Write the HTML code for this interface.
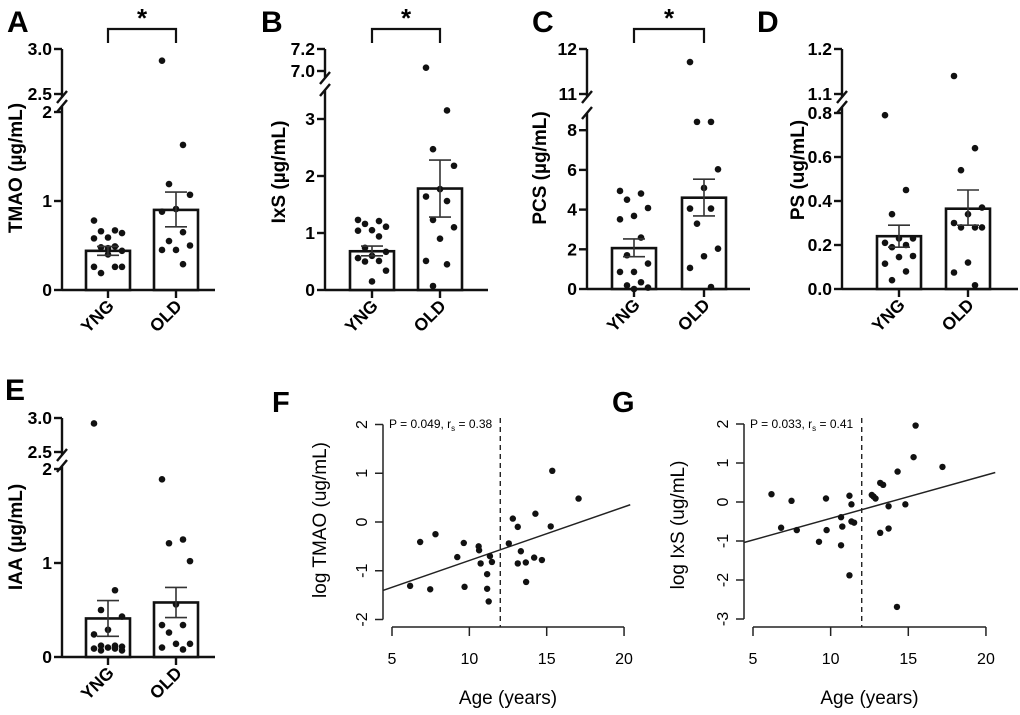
<!DOCTYPE html>
<html><head><meta charset="utf-8"><style>
body{margin:0;background:#fff;width:1020px;height:715px;overflow:hidden}
svg{display:block}
text{font-family:"Liberation Sans",Arial,sans-serif}
.b{font-weight:bold}
</style></head><body>
<svg id="fig" width="1020" height="715" viewBox="0 0 1020 715" xmlns="http://www.w3.org/2000/svg"></svg>
<script>
// ---------- Data ----------
const groups = ["YNG","OLD"];
const aYng = [0.78,0.67,0.66,0.64,0.59,0.58,0.49,0.48,0.44,0.40,0.26,0.26,0.19,0.26,0.47];
const aOld = [2.87,1.63,1.19,1.07,0.91,0.88,0.65,0.55,0.50,0.45,0.45,0.29];
const aMean = [0.44,0.90]; const aLo=[0.39,0.71]; const aHi=[0.49,1.10];
const aTicks = [0,1,2,2.5,3.0]; const aTickLabels=["0","1","2","2.5","3.0"];
const bYng = [1.23,1.21,1.16,1.11,1.05,1.04,0.94,0.74,0.67,0.60,0.56,0.51,0.50,0.34,0.15];
const bOld = [7.03,3.15,2.47,2.18,1.77,1.64,1.56,1.23,1.10,0.90,0.51,0.45,0.07];
const bMean = [0.68,1.78]; const bLo=[0.60,1.28]; const bHi=[0.77,2.28];
const bTicks = [0,1,2,3,7.0,7.2]; const bTickLabels=["0","1","2","3","7.0","7.2"];
const cYng = [4.94,4.81,4.5,4.08,3.68,3.51,2.59,1.70,1.28,0.86,0.86,0.34,0.18,0.07,0.0];
const cOld = [11.71,8.42,8.42,6.03,5.09,4.05,4.05,3.29,2.03,1.65,1.06,0.1];
const cMean = [2.06,4.60]; const cLo=[1.63,3.68]; const cHi=[2.52,5.53];
const cTicks = [0,2,4,6,8,11,12]; const cTickLabels=["0","2","4","6","8","11","12"];
const dYng = [0.79,0.45,0.34,0.23,0.23,0.21,0.20,0.19,0.15,0.145,0.115,0.08,0.04];
const dOld = [1.14,0.64,0.54,0.37,0.34,0.30,0.28,0.28,0.28,0.12,0.075,0.017];
const dMean = [0.24,0.365]; const dLo=[0.19,0.29]; const dHi=[0.29,0.45];
const dTicks = [0,0.2,0.4,0.6,0.8,1.1,1.2]; const dTickLabels=["0.0","0.2","0.4","0.6","0.8","1.1","1.2"];
const eYng = [2.92,0.71,0.50,0.43,0.29,0.24,0.12,0.12,0.11,0.10,0.09,0.09,0.07,0.07];
const eOld = [1.89,1.25,1.21,1.02,0.56,0.34,0.34,0.26,0.14,0.14,0.10,0.08];
const eMean = [0.41,0.58]; const eLo=[0.22,0.42]; const eHi=[0.60,0.74];
const eTicks = [0,1,2,2.5,3.0]; const eTickLabels=["0","1","2","2.5","3.0"];

const fAge = [6.17,6.82,7.47,7.81,9.22,9.64,9.69,10.6,10.63,10.73,11.15,11.15,11.25,11.33,11.46,12.55,12.81,13.13,13.13,13.33,13.65,13.67,14.19,14.27,14.69,15.26,15.36,17.06];
const fVal = [-1.31,-0.41,-1.38,-0.25,-0.72,-0.43,-1.33,-0.50,-0.58,-0.85,-1.37,-1.07,-1.63,-0.70,-0.82,-0.44,0.07,-0.10,-0.85,-0.60,-0.83,-1.23,-0.73,0.17,-0.78,-0.09,1.05,0.48];
const fFit = [-1.89,0.11];
const gAge = [6.19,6.81,7.48,7.82,9.25,9.70,9.74,10.67,10.67,10.75,11.21,11.21,11.34,11.34,11.51,12.65,12.76,12.89,13.19,13.38,13.19,13.73,13.73,14.31,14.27,14.81,15.34,15.47,17.2];
const gVal = [0.20,-0.66,0.03,-0.72,-1.02,0.09,-0.72,-0.39,-1.11,-0.63,0.16,-1.88,-0.06,-0.50,-0.53,0.18,0.14,0.09,0.49,0.44,-0.79,-0.11,-0.68,0.78,-2.69,-0.06,1.15,1.96,0.90];
const gFit = [-1.53,0.111];
const xTicks = [5,10,15,20];
const fYTicks = [-2,-1,0,1,2];
const gYTicks = [-3,-2,-1,0,1,2];

const NS="http://www.w3.org/2000/svg";
const svg=document.getElementById('fig');
function mk(tag,attrs,parent,txt){const e=document.createElementNS(NS,tag);for(const k in attrs)e.setAttribute(k,attrs[k]);if(txt!==undefined)e.textContent=txt;(parent||svg).appendChild(e);return e;}

function barPanel(p){
  const g=mk('g',{});
  
  
  const y=v=> v<=p.lowMax ? p.zero - v*p.ls : p.uRef - (v-p.uRefV)*p.us;
  const L=mk('text',{x:p.letterX,y:p.letterY,'font-size':30,'class':'b'},g,p.id);
  
  
  const ax=mk('path',{d:`M${p.ax} ${p.zero}V${p.lowTop} M${p.ax} ${p.uTop}V${p.uBot} M${p.ax-5} ${p.lowTop+6}L${p.ax+5} ${p.lowTop-6} M${p.ax-5} ${p.uBot+6}L${p.ax+5} ${p.uBot-6} M${p.ax} ${p.zero}H${p.xEnd}`,stroke:'#111','stroke-width':2.4,fill:'none'},g);
  
  
  p.ticks.forEach((t,i)=>{
    const yy=y(t);
    mk('line',{x1:p.ax-8,x2:p.ax,y1:yy,y2:yy,stroke:'#111','stroke-width':2.4},g);
    const tl=mk('text',{x:p.ax-10,y:yy+6,'font-size':17.5,'text-anchor':'end','class':'b'},g,p.labels[i]);
    
    
  });
  const yt=mk('text',{x:0,y:0,'font-size':19,'text-anchor':'middle','class':'b',transform:`translate(${p.titleX},${p.titleY}) rotate(-90)`},g,p.title);
  
  
  const series=[p.yng,p.old];
  groups.forEach((grp,gi)=>{
    const cx=p.cx[gi];
    const bar=mk('rect',{x:cx-22,y:y(p.mean[gi]),width:44,height:p.zero-y(p.mean[gi]),fill:'#fff',stroke:'#111','stroke-width':2.6},g);
    
    
    mk('line',{x1:cx,x2:cx,y1:p.zero,y2:p.zero+8,stroke:'#111','stroke-width':2.4},g);
    series[gi].forEach((v,i)=>{
      const off=(((i*3)%5)-2)*7;
      const d=mk('circle',{cx:cx+off,cy:y(v),r:3.3,fill:'#111'},g);
      
      
    });
    const eb=mk('path',{d:`M${cx} ${y(p.lo[gi])}V${y(p.hi[gi])} M${cx-11} ${y(p.lo[gi])}h22 M${cx-11} ${y(p.hi[gi])}h22`,stroke:'#333','stroke-width':1.6,fill:'none'},g);
    
    
    const lab=mk('text',{x:0,y:0,'font-size':17.5,'text-anchor':'end','class':'b',transform:`translate(${cx+7},${p.zero+17}) rotate(-45)`},g,grp);
    
    
  });
  if(p.sig){
    const br=mk('path',{d:`M${p.cx[0]} 43V29H${p.cx[1]}V43`,stroke:'#111','stroke-width':2.2,fill:'none'},g);
    
    
    const st=mk('text',{x:(p.cx[0]+p.cx[1])/2,y:27,'font-size':26,'text-anchor':'middle','class':'b'},g,'*');
    
    
  }
}

barPanel({id:'A',letterX:7,letterY:32,ax:62,zero:290,ls:89,lowMax:2.2,lowTop:106,uRef:94,uRefV:2.5,us:90,uTop:49,uBot:97,ticks:aTicks,labels:aTickLabels,xEnd:215,cx:[108,176],yng:aYng,old:aOld,mean:aMean,lo:aLo,hi:aHi,title:'TMAO (µg/mL)',titleX:22,titleY:168,sig:true});
barPanel({id:'B',letterX:261,letterY:32,ax:325,zero:290,ls:57,lowMax:3.6,lowTop:90,uRef:71,uRefV:7.0,us:110,uTop:49,uBot:78,ticks:bTicks,labels:bTickLabels,xEnd:488,cx:[372,440],yng:bYng,old:bOld,mean:bMean,lo:bLo,hi:bHi,title:'IxS (µg/mL)',titleX:285,titleY:172,sig:true});
barPanel({id:'C',letterX:532,letterY:32,ax:587,zero:289,ls:19.85,lowMax:9,lowTop:113,uRef:94,uRefV:11,us:45,uTop:49,uBot:97,ticks:cTicks,labels:cTickLabels,xEnd:750,cx:[634,704],yng:cYng,old:cOld,mean:cMean,lo:cLo,hi:cHi,title:'PCS (µg/mL)',titleX:546,titleY:168,sig:true});
barPanel({id:'D',letterX:757,letterY:32,ax:842,zero:289,ls:220,lowMax:0.85,lowTop:107,uRef:94,uRefV:1.1,us:450,uTop:49,uBot:97,ticks:dTicks,labels:dTickLabels,xEnd:1018,cx:[899,968],yng:dYng,old:dOld,mean:dMean,lo:dLo,hi:dHi,title:'PS  (ug/mL)',titleX:804,titleY:170,sig:false});
barPanel({id:'E',letterX:5,letterY:400,ax:62,zero:657,ls:94,lowMax:2.2,lowTop:466,uRef:452,uRefV:2.5,us:68,uTop:418,uBot:455,ticks:eTicks,labels:eTickLabels,xEnd:215,cx:[108,176],yng:eYng,old:eOld,mean:eMean,lo:eLo,hi:eHi,title:'IAA  (µg/mL)',titleX:22,titleY:537,sig:false});

function scatterPanel(p){
  const g=mk('g',{});
  
  
  const X=a=>p.x5+(a-5)*p.xs, Y=v=>p.y0-v*p.ys;
  const L=mk('text',{x:p.letterX,y:412,'font-size':29,'class':'b'},g,p.id);
  
  
  const yt=p.yTicks;
  const ya=mk('path',{d:`M${p.ax} ${Y(yt[0])}V${Y(yt[yt.length-1])}`,stroke:'#222','stroke-width':1.5,fill:'none'},g);
  
  
  yt.forEach(t=>{
    mk('line',{x1:p.ax-8,x2:p.ax,y1:Y(t),y2:Y(t),stroke:'#222','stroke-width':1.5},g);
    const tl=mk('text',{x:0,y:0,'font-size':16,'text-anchor':'middle',transform:`translate(${p.ax-16},${Y(t)}) rotate(-90)`},g,String(t));
    
    
  });
  const xa=mk('path',{d:`M${X(xTicks[0])} 627H${X(xTicks[xTicks.length-1])}`,stroke:'#222','stroke-width':1.5,fill:'none'},g);
  
  
  xTicks.forEach(t=>{
    mk('line',{x1:X(t),x2:X(t),y1:627,y2:636,stroke:'#222','stroke-width':1.5},g);
    const tl=mk('text',{x:X(t),y:664,'font-size':16,'text-anchor':'middle'},g,t);
    
    
  });
  const xt=mk('text',{x:(X(5)+X(20))/2,y:704,'font-size':19,'text-anchor':'middle'},g,'Age (years)');
  
  
  const ytl=mk('text',{x:0,y:0,'font-size':19,'text-anchor':'middle',transform:`translate(${p.titleX},${p.titleY}) rotate(-90)`},g,p.title);
  
  
  const dl=mk('line',{x1:X(12),x2:X(12),y1:418,y2:627,stroke:'#222','stroke-width':1.4,'stroke-dasharray':'5,4'},g);
  
  
  const a0=5+(p.ax-p.x5)/p.xs, a1=p.aEnd;
  const fl=mk('line',{x1:X(a0),y1:Y(p.fit[0]+p.fit[1]*a0),x2:X(a1),y2:Y(p.fit[0]+p.fit[1]*a1),stroke:'#222','stroke-width':1.5},g);
  
  
  p.age.forEach((a,i)=>{
    const d=mk('circle',{cx:X(a),cy:Y(p.val[i]),r:3.2,fill:'#111'},g);
    
    
  });
  const an=mk('text',{x:p.ax+6,y:428,'font-size':12},g);
  
  
  an.innerHTML=`P = ${p.pv}, r<tspan font-size="8" dy="3">s</tspan><tspan dy="-3"> = ${p.rs}</tspan>`;
}
scatterPanel({id:'F',letterX:272,ax:383,x5:392,xs:15.47,y0:522,ys:48.75,yTicks:fYTicks,age:fAge,val:fVal,fit:fFit,aEnd:20.4,title:'log TMAO (ug/mL)',titleX:326,titleY:520,pv:'0.049',rs:'0.38'});
scatterPanel({id:'G',letterX:612,ax:744,x5:753,xs:15.53,y0:502,ys:39,yTicks:gYTicks,age:gAge,val:gVal,fit:gFit,aEnd:20.6,title:'log IxS (ug/mL)',titleX:684,titleY:525,pv:'0.033',rs:'0.41'});
</script>
</body></html>
